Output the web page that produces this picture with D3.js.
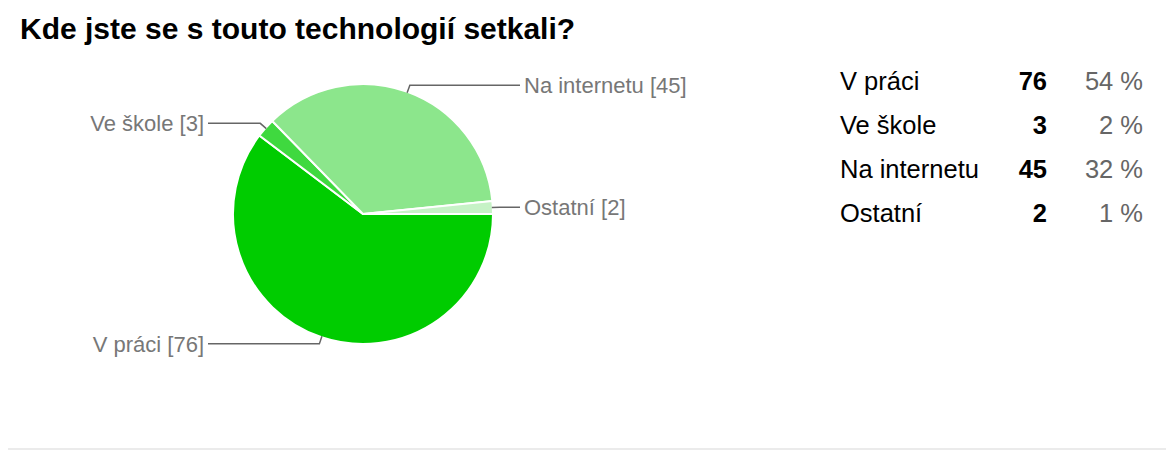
<!DOCTYPE html>
<html>
<head>
<meta charset="utf-8">
<script src="https://cdn.jsdelivr.net/npm/d3@7"></script>
<style>
  body { margin: 0; background: #fff; }
  svg { display: block; font-family: "Liberation Sans", Arial, Helvetica, sans-serif; }
</style>
</head>
<body>
<div id="chart"></div>
<script>
// data
var categories = ["V práci", "Ve škole", "Na internetu", "Ostatní"];
var counts = [76, 3, 45, 2];
var percentLabels = ["54 %", "2 %", "32 %", "1 %"];
var sliceColors = ["#00cc00", "#3fd93f", "#8ce68c", "#c6f2c6"];

var svgWidth = 1166;
var svgHeight = 450;

var svg = d3.select("#chart")
  .append("svg")
  .attr("width", svgWidth)
  .attr("height", svgHeight);

// title
svg.append("text")
  .attr("x", 20)
  .attr("y", 39)
  .attr("font-size", "30px")
  .attr("font-weight", "bold")
  .attr("fill", "#000")
  .text("Kde jste se s touto technologií setkali?");

var rows = categories.map(function(c, i) {
  return { name: c, value: counts[i], pct: percentLabels[i], color: sliceColors[i] };
});

// pie
var cx = 363, cy = 214, radius = 130;

var pie = d3.pie()
  .sort(null)
  .value(d => d.value)
  .startAngle(Math.PI / 2)
  .endAngle(Math.PI / 2 + 2 * Math.PI);

var arcs = pie(rows);

var arc = d3.arc().innerRadius(0).outerRadius(radius);
var edgeArc = d3.arc().innerRadius(radius - 1).outerRadius(radius - 1);
var elbowArc = d3.arc().innerRadius(radius + 7).outerRadius(radius + 7);

var pieGroup = svg.append("g")
  .attr("transform", `translate(${cx}, ${cy})`);

pieGroup.selectAll("path.slice")
  .data(arcs)
  .enter()
  .append("path")
  .attr("class", "slice")
  .attr("d", arc)
  .attr("fill", d => d.data.color)
  .attr("stroke", "#fff")
  .attr("stroke-width", 2);

// leader lines + labels
var leftX = 208 - cx, rightX = 520 - cx;

function midAngle(d) { return (d.startAngle + d.endAngle) / 2; }
function isLeft(d) { return (midAngle(d) % (2 * Math.PI)) > Math.PI; }

pieGroup.selectAll("polyline")
  .data(arcs)
  .enter()
  .append("polyline")
  .attr("fill", "none")
  .attr("stroke", "#666")
  .attr("stroke-width", 1.5)
  .attr("points", function(d) {
    var a = edgeArc.centroid(d);
    var b = elbowArc.centroid(d);
    var endX = isLeft(d) ? leftX : rightX;
    return [a, b, [endX, b[1]]].map(p => p.join(",")).join(" ");
  });

pieGroup.selectAll("text.pielabel")
  .data(arcs)
  .enter()
  .append("text")
  .attr("class", "pielabel")
  .attr("x", d => isLeft(d) ? leftX - 4 : rightX + 4)
  .attr("y", d => elbowArc.centroid(d)[1] + 8)
  .attr("text-anchor", d => isLeft(d) ? "end" : "start")
  .attr("font-size", "22px")
  .attr("fill", "#777")
  .text(d => `${d.data.name} [${d.data.value}]`);

// summary table on the right
var rowY = d3.scalePoint()
  .domain(categories)
  .range([90, 222]);

var table = svg.append("g");

table.selectAll("text.name")
  .data(rows)
  .enter()
  .append("text")
  .attr("class", "name")
  .attr("x", 840)
  .attr("y", d => rowY(d.name))
  .attr("font-size", "25.5px")
  .attr("fill", "#000")
  .text(d => d.name);

table.selectAll("text.count")
  .data(rows)
  .enter()
  .append("text")
  .attr("class", "count")
  .attr("x", 1047)
  .attr("y", d => rowY(d.name))
  .attr("text-anchor", "end")
  .attr("font-size", "25.5px")
  .attr("font-weight", "bold")
  .attr("fill", "#000")
  .text(d => d.value);

table.selectAll("text.pct")
  .data(rows)
  .enter()
  .append("text")
  .attr("class", "pct")
  .attr("x", 1143)
  .attr("y", d => rowY(d.name))
  .attr("text-anchor", "end")
  .attr("font-size", "25.5px")
  .attr("fill", "#666")
  .text(d => d.pct);

// divider at the bottom
svg.append("rect")
  .attr("x", 8)
  .attr("y", 448)
  .attr("width", svgWidth - 8)
  .attr("height", 2)
  .attr("fill", "#ebebeb");
</script>
</body>
</html>
